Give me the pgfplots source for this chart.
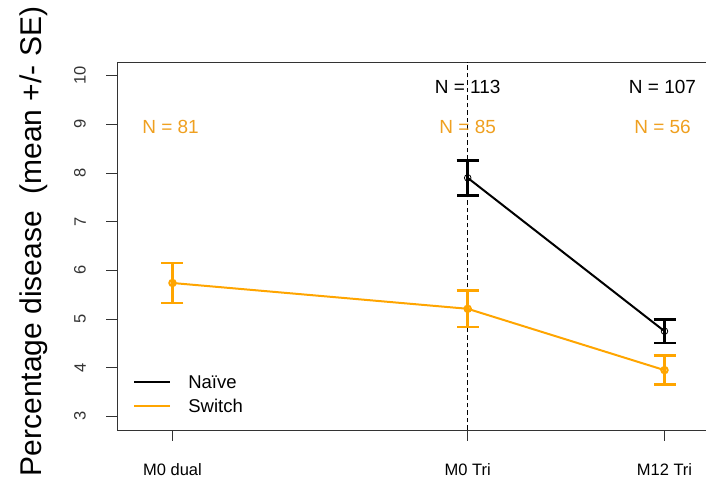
\documentclass[border=0pt]{standalone}
\usepackage{pgfplots}
\pgfplotsset{compat=1.18}
\usepackage{fontspec}
\setmainfont{Liberation Sans}
\definecolor{rorange}{HTML}{FFA500}
\definecolor{torange}{HTML}{EFA020}
\definecolor{axgray}{HTML}{333333}
\pgfplotstableread{
x y e
3 7.90 0.36
5 4.75 0.24
}\naive
\pgfplotstableread{
x y e
0 5.74 0.41
3 5.21 0.375
5 3.95 0.30
}\switch
\begin{document}
\begin{tikzpicture}[x=1pt,y=1pt]
\path[use as bounding box] (-117,-54) rectangle (589,430);
\begin{axis}[
 at={(0,0)}, anchor=south west,
 scale only axis, width=590pt, height=368pt,
 xmin=-0.564, xmax=5.432, ymin=2.72, ymax=10.28,
 axis line style={axgray, line width=0.8pt},
 xtick={0,3,5}, xticklabels={M0 dual, M0 Tri, M12 Tri},
 ytick={3,4,...,10},
 tick align=outside, major tick length=11pt,
 xtick pos=bottom, ytick pos=left,
 tick style={axgray, line width=0.8pt},
 /pgf/number format/assume math mode=true,
 yticklabel style={rotate=90, anchor=south, inner sep=0pt, font=\fontsize{16.5}{16.5}\selectfont, text=axgray},
 yticklabel shift=20pt,
 xticklabel style={anchor=base, inner sep=0pt, font=\fontsize{16.5}{16.5}\selectfont, text=black},
 xticklabel shift=34pt,
 clip=false,
 legend style={at={(axis cs:-0.40,3.42)}, anchor=west, draw=none, fill=none,
   font=\fontsize{18.5}{18.5}\selectfont, inner sep=0pt, row sep=7pt, column sep=17pt,
   nodes={inner sep=0pt, text height=13pt, text depth=4pt}},
 legend cell align=left,
 legend image code/.code={\draw[#1, mark=none] (0pt,2pt) -- (36pt,2pt);},
]
\addplot[black, line width=0.8pt, dash pattern=on 4.5pt off 3pt, forget plot] coordinates {(3,2.72) (3,10.28)};
\addplot[black, line width=2pt, mark=o, mark size=3.3pt, mark options={line width=0.8pt, solid},
  error bars/.cd, y dir=both, y explicit,
  error bar style={line width=2.5pt, black},
  error mark options={rotate=90, mark size=11pt, line width=2.5pt, black}]
  table[x=x, y=y, y error=e] {\naive};
\addlegendentry{Naïve}
\addplot[rorange, line width=2pt, mark=o, mark size=3.2pt, mark options={line width=2pt, solid},
  error bars/.cd, y dir=both, y explicit,
  error bar style={line width=2.5pt, rorange},
  error mark options={rotate=90, mark size=11pt, line width=2.5pt, rorange}]
  table[x=x, y=y, y error=e] {\switch};
\addlegendentry{Switch}
\node[anchor=base, font=\fontsize{19}{19}\selectfont, text=black] at (axis cs:3,9.64) {N = 113};
\node[anchor=base, font=\fontsize{19}{19}\selectfont, text=black] at (axis cs:4.98,9.64) {N = 107};
\node[anchor=base, font=\fontsize{19}{19}\selectfont, text=torange] at (axis cs:-0.02,8.82) {N = 81};
\node[anchor=base, font=\fontsize{19}{19}\selectfont, text=torange] at (axis cs:3,8.82) {N = 85};
\node[anchor=base, font=\fontsize{19}{19}\selectfont, text=torange] at (axis cs:4.98,8.82) {N = 56};
\end{axis}
\node[rotate=90, anchor=base, inner sep=0pt, font=\fontsize{30}{30}\selectfont] at (-75.3,188.5) {Percentage disease~~(mean +/- SE)};
\end{tikzpicture}
\end{document}
